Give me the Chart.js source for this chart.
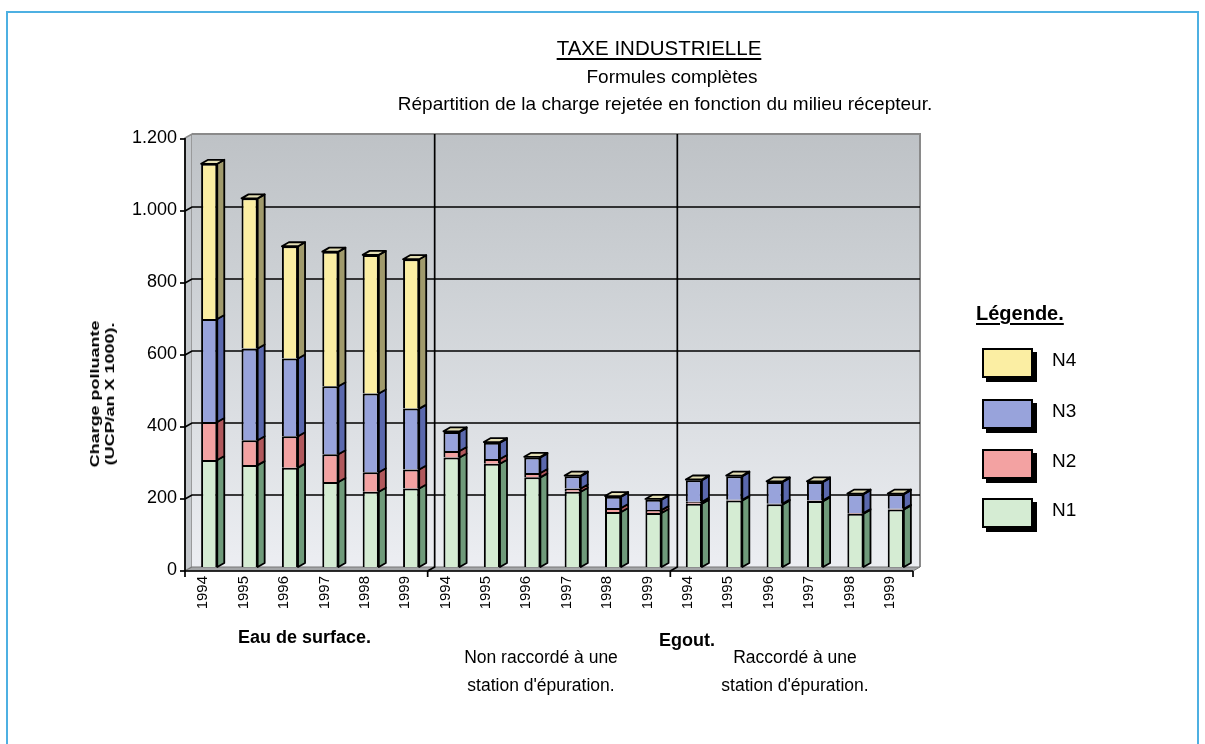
<!DOCTYPE html>
<html lang="fr">
<head>
<meta charset="utf-8">
<title>Taxe industrielle</title>
<script src="https://cdn.jsdelivr.net/npm/chart.js@4.4.1/dist/chart.umd.min.js"></script>
<style>
  html, body { margin: 0; padding: 0; background: #fff; }
  #page { position: relative; width: 1205px; height: 744px; overflow: hidden;
          font-family: "Liberation Sans", Arial, sans-serif; color: #000; }
  #cadre { position: absolute; left: 6px; top: 11px; width: 1193px; height: 780px;
           border: 2px solid #4db0e2; box-sizing: border-box; }
  #graphique { position: absolute; left: 0; top: 0; }
  .txt { position: absolute; white-space: nowrap; line-height: 1; }
  .centre { transform: translateX(-50%); text-align: center; }
  .souligne { text-decoration: underline; text-underline-offset: 3px; text-decoration-thickness: 2px; }
  #titreY { left: 102px; top: 394px; font-weight: bold; font-size: 13.5px; line-height: 15px;
            text-align: center; transform: translate(-50%, -50%) rotate(-90deg) scale(1.33, 1); }
  .case { position: absolute; width: 51px; height: 30px; border: 2px solid #000;
          box-sizing: border-box; box-shadow: 4px 4px 0 #000; }
  .sous { line-height: 28px; font-size: 17.5px; }
</style>
</head>
<body>
<div id="page">
  <div id="cadre"></div>
  <canvas id="graphique" width="1205" height="744"></canvas>

  <div class="txt centre souligne" style="left:659px; top:38px; font-size:20.5px;">TAXE INDUSTRIELLE</div>
  <div class="txt centre" style="left:672px; top:67px; font-size:19px;">Formules complètes</div>
  <div class="txt centre" style="left:665px; top:94px; font-size:19px;">Répartition de la charge rejetée en fonction du milieu récepteur.</div>

  <div id="titreY" class="txt">Charge polluante<br>(UCP/an X 1000).</div>

  <div class="txt" style="left:238px; top:628px; font-size:18px; font-weight:bold;">Eau de surface.</div>
  <div class="txt" style="left:659px; top:631px; font-size:18px; font-weight:bold;">Egout.</div>
  <div class="txt centre sous" style="left:541px; top:643px;">Non raccordé à une<br>station d'épuration.</div>
  <div class="txt centre sous" style="left:795px; top:643px;">Raccordé à une<br>station d'épuration.</div>

  <div id="legende"></div>
</div>

<script>
// années répétées pour chaque milieu récepteur
const annees = ['1994', '1995', '1996', '1997', '1998', '1999'];
const milieux = ['Eau de surface', 'Egout non raccordé', 'Egout raccordé'];
const categories = milieux.flatMap(() => annees);

// charge polluante (UCP/an x 1000) par niveau
const n1 = [297, 283, 276, 236, 209, 218, 304, 287, 249, 209, 153, 150, 176, 185, 174, 183, 148, 160];
const n2 = [106, 69, 87, 77, 54, 53, 18, 13, 12, 9, 11, 8, 5, 2, 2, 2, 2, 2];
const n3 = [286, 255, 216, 189, 219, 169, 53, 45, 43, 34, 31, 29, 60, 65, 60, 51, 52, 40];
const n4 = [431, 417, 312, 374, 385, 415, 2, 2, 2, 2, 2, 2, 2, 2, 2, 2, 2, 2];

const niveaux = ['N1', 'N2', 'N3', 'N4'];
const graduations = ['0', '200', '400', '600', '800', '1.000', '1.200'];

const faces = ['#d5ecd3', '#f3a2a2', '#98a3db', '#fbeea3'];
const cotes = ['#6f9a7a', '#b0585c', '#5a68ad', '#a09a6c'];
const dessus = ['#e3f2e1', '#f7c0c0', '#b6bde6', '#e4dfb4'];

const PX = 7;  // profondeur en x
const PY = 4;  // profondeur en y
const POLICE = '"Liberation Sans", Arial, sans-serif';

// murs, quadrillage et axes dessinés en perspective
const decor3d = {
  id: 'decor3d',
  beforeDatasetsDraw(chart) {
    const { ctx, chartArea: ca, scales } = chart;
    const y = scales.y;
    const g = ca.left + 3, d = ca.right + 4, h = ca.top - 1, b = ca.bottom;
    const ag = g - PX, ad = d - PX;
    ctx.save();

    const degrade = ctx.createLinearGradient(0, h, 0, b);
    degrade.addColorStop(0, '#bec2c6');
    degrade.addColorStop(0.35, '#cdd1d5');
    degrade.addColorStop(1, '#eceef2');

    // mur gauche
    ctx.beginPath();
    ctx.moveTo(ag, h + PY); ctx.lineTo(g, h); ctx.lineTo(g, b); ctx.lineTo(ag, b + PY);
    ctx.closePath();
    ctx.fillStyle = '#c4c8cc';
    ctx.fill();
    ctx.strokeStyle = '#8a8a8a';
    ctx.lineWidth = 1.5;
    ctx.stroke();

    // mur du fond
    ctx.fillStyle = degrade;
    ctx.fillRect(g, h, d - g, b - h);
    ctx.strokeStyle = '#8a8a8a';
    ctx.lineWidth = 2;
    ctx.beginPath();
    ctx.moveTo(g, h); ctx.lineTo(d, h); ctx.lineTo(d, b);
    ctx.stroke();

    // sol
    ctx.beginPath();
    ctx.moveTo(ag, b + PY); ctx.lineTo(g, b); ctx.lineTo(d, b); ctx.lineTo(ad, b + PY);
    ctx.closePath();
    ctx.fillStyle = '#a4a6a8';
    ctx.fill();
    ctx.strokeStyle = '#777';
    ctx.lineWidth = 1;
    ctx.stroke();

    // quadrillage horizontal
    ctx.strokeStyle = '#000';
    ctx.lineWidth = 1.7;
    y.ticks.forEach(t => {
      if (t.value <= 0 || t.value >= 1200) return;
      const py = y.getPixelForValue(t.value);
      ctx.beginPath();
      ctx.moveTo(ag, py + PY); ctx.lineTo(g, py); ctx.lineTo(d, py);
      ctx.stroke();
    });

    // séparations entre milieux
    const n = chart.data.labels.length;
    const pasF = (d - g) / n, pasA = (ad - ag) / n;
    [6, 12].forEach(k => {
      ctx.beginPath();
      ctx.moveTo(g + k * pasF, h); ctx.lineTo(g + k * pasF, b);
      ctx.lineTo(ag + k * pasA, b + PY);
      ctx.stroke();
    });

    // axes avant
    ctx.lineWidth = 1.7;
    ctx.beginPath();
    ctx.moveTo(ag, h + PY); ctx.lineTo(ag, b + PY); ctx.lineTo(ad, b + PY);
    ctx.stroke();
    y.ticks.forEach(t => {
      const py = y.getPixelForValue(t.value) + PY;
      ctx.beginPath();
      ctx.moveTo(ag - 5, py); ctx.lineTo(ag, py);
      ctx.stroke();
    });
    [0, 6, 12, 18].forEach(k => {
      ctx.beginPath();
      ctx.moveTo(ag + k * pasA, b + PY); ctx.lineTo(ag + k * pasA, b + PY + 6);
      ctx.stroke();
    });
    ctx.restore();
  },

  // faces latérales et dessus des colonnes
  afterDatasetsDraw(chart) {
    const { ctx } = chart;
    const sommets = [];
    ctx.save();
    ctx.strokeStyle = '#000';
    ctx.lineWidth = 1.8;
    ctx.lineJoin = 'round';
    chart.data.datasets.forEach((ds, di) => {
      chart.getDatasetMeta(di).data.forEach((barre, i) => {
        const { x, y, base, width } = barre.getProps(['x', 'y', 'base', 'width'], true);
        if (Math.abs(base - y) < 0.01) return;
        const dr = x + width / 2;
        ctx.beginPath();
        ctx.moveTo(dr, y); ctx.lineTo(dr + PX, y - PY);
        ctx.lineTo(dr + PX, base - PY); ctx.lineTo(dr, base);
        ctx.closePath();
        ctx.fillStyle = cotes[di];
        ctx.fill();
        ctx.stroke();
        sommets[i] = { g: x - width / 2, dr, y, couleur: dessus[di] };
      });
    });
    sommets.forEach(s => {
      if (!s) return;
      ctx.beginPath();
      ctx.moveTo(s.g, s.y); ctx.lineTo(s.g + PX, s.y - PY);
      ctx.lineTo(s.dr + PX, s.y - PY); ctx.lineTo(s.dr, s.y);
      ctx.closePath();
      ctx.fillStyle = s.couleur;
      ctx.fill();
      ctx.stroke();
    });
    ctx.restore();
  }
};

const series = [n1, n2, n3, n4];

new Chart(document.getElementById('graphique'), {
  type: 'bar',
  data: {
    labels: categories,
    datasets: series.map((valeurs, i) => ({
      label: niveaux[i],
      data: valeurs,
      backgroundColor: faces[i],
      borderColor: '#000',
      borderWidth: 2
    }))
  },
  options: {
    responsive: false,
    animation: false,
    devicePixelRatio: 1,
    layout: { padding: { left: 0, top: 135, right: 289, bottom: 0 } },
    datasets: { bar: { barPercentage: 0.4, categoryPercentage: 1 } },
    plugins: {
      legend: { display: false },
      tooltip: { enabled: false }
    },
    scales: {
      x: {
        stacked: true,
        grid: { display: false, drawTicks: false },
        border: { display: false },
        ticks: {
          autoSkip: false, minRotation: 90, maxRotation: 90,
          padding: 9, labelOffset: -6, color: '#000',
          font: { family: POLICE, size: 15 }
        },
        afterFit(s) { s.height = 744 - 567; }
      },
      y: {
        stacked: true,
        min: 0, max: 1200,
        grid: { display: false, drawTicks: false },
        border: { display: false },
        ticks: {
          stepSize: 200, padding: 12, labelOffset: 3, color: '#000',
          font: { family: POLICE, size: 18 },
          callback: (v, i) => graduations[i]
        },
        afterFit(s) { s.width = 189; }
      }
    }
  },
  plugins: [decor3d]
});

// légende : du niveau le plus haut au plus bas
const legende = document.getElementById('legende');
legende.innerHTML = '<div class="txt souligne" style="left:976px; top:303px; font-size:20px; font-weight:bold;">Légende.</div>';
const hautsCases = [348, 399, 449, 498];
niveaux.slice().reverse().forEach((nom, k) => {
  const idx = niveaux.length - 1 - k;
  const top = hautsCases[k];
  legende.innerHTML +=
    `<div class="case" style="left:982px; top:${top}px; background:${faces[idx]};"></div>` +
    `<div class="txt" style="left:1052px; top:${top + 2}px; font-size:19px;">${nom}</div>`;
});
</script>
</body>
</html>
